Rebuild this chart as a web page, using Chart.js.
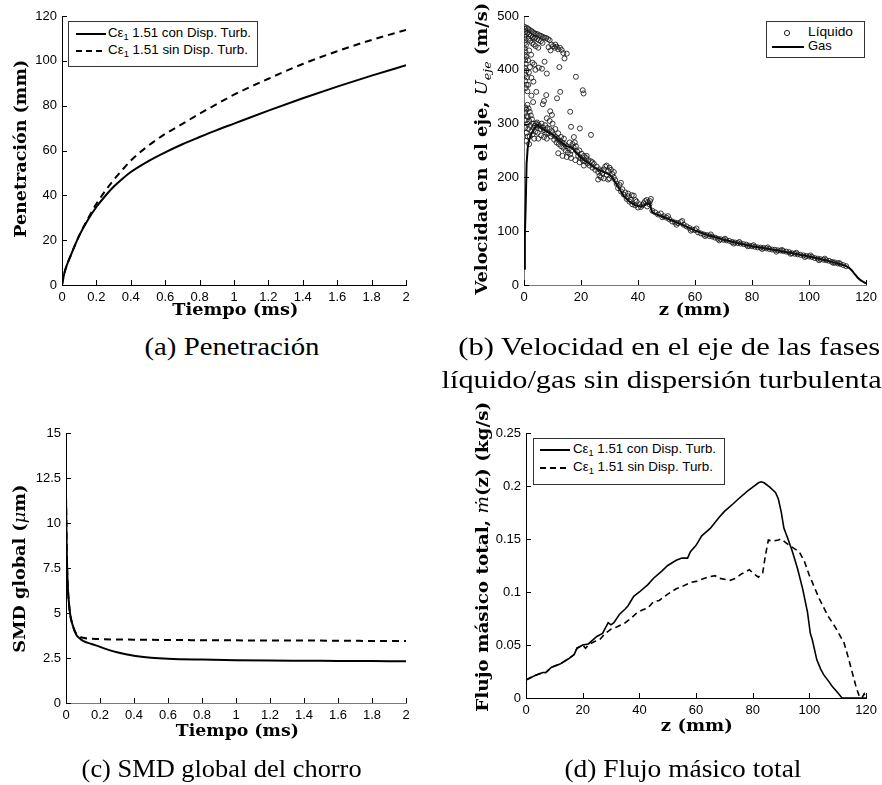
<!DOCTYPE html>
<html><head><meta charset="utf-8">
<script src="https://cdn.jsdelivr.net/npm/chart.js@4/dist/chart.umd.min.js"></script>
<style>
html,body{margin:0;padding:0;background:#fff;width:882px;height:785px;overflow:hidden;position:relative;}
canvas{position:absolute;}
.txt{position:absolute;white-space:nowrap;line-height:1.15;transform-origin:center center;color:#000;}
.ttl{font-family:"DejaVu Serif",serif;font-weight:bold;font-size:17px;}
.cap{font-family:"Liberation Serif","Times New Roman",serif;font-size:25px;}
.lt{font-family:"Liberation Sans",Arial,sans-serif;font-size:13px;}
sub{font-size:0.7em;line-height:0;vertical-align:-0.35em;}
.legbox{position:absolute;border:1px solid #333;background:#fff;}
</style></head>
<body>
<canvas id="ca" width="441" height="325" style="left:0;top:0"></canvas>
<canvas id="cb" width="441" height="325" style="left:441px;top:0"></canvas>
<canvas id="cc" width="441" height="330" style="left:0;top:400px"></canvas>
<canvas id="cd" width="441" height="330" style="left:441px;top:400px"></canvas>
<script>
// ---------- DATA ----------
// (a) Penetración vs tiempo
const timeA = [0, 0.01, 0.02, 0.05, 0.1, 0.15, 0.2, 0.25, 0.3, 0.35, 0.4, 0.5, 0.6, 0.7, 0.8, 0.9, 1.0, 1.2, 1.4, 1.6, 1.8, 2.0];
const penCon = [0, 4, 7, 13, 22, 29, 34.8, 39.6, 43.8, 47.3, 50.4, 55.2, 59.2, 62.8, 66, 69.1, 72, 77.8, 83.3, 88.5, 93.4, 98];
const penSin = [0, 4, 7, 13, 22, 29.5, 36.2, 41.8, 46.8, 51.3, 55.5, 62, 67.4, 71.9, 76.4, 80.7, 84.9, 92, 98.6, 104.3, 109.3, 113.8];
const xTicksA = [0, 0.2, 0.4, 0.6, 0.8, 1, 1.2, 1.4, 1.6, 1.8, 2];
const yTicksA = [0, 20, 40, 60, 80, 100, 120];

// (b) Velocidad en el eje
const zGas = [0, 0.3, 0.6, 0.9, 1.3, 1.8, 2.5, 3.5, 4.6, 6, 8, 10, 12, 15, 17, 18, 20, 23, 25, 28, 30, 31, 33, 35, 37, 39, 41, 43, 44, 45, 47, 50, 55, 60, 65, 70, 75, 80, 85, 90, 95, 100, 105, 108, 110, 112, 113, 114, 115, 116, 117, 118, 119, 120];
const vGas = [30, 90, 150, 225, 255, 270, 280, 290, 298, 292, 285, 280, 270, 258, 255, 248, 236, 225, 217, 210, 205, 200, 182, 165, 155, 148, 146, 150, 152, 135, 130, 124, 113, 101, 92, 84, 78, 72, 68, 63, 58, 53, 47, 43, 40, 37, 35, 32, 27, 20, 14, 9, 6, 3];
const liquidZ = [
 0.2,0.4,0.3,0.6,0.2,0.5,0.3,0.7,0.2,0.5,
 0.3,0.8,0.4,0.6,0.3,0.8,0.5,1.0,0.4,0.9,
 0.6,1.2,0.5,0.8,0.3,1.0,0.6,1.2,0.4,0.9,
 1.3,0.7,1.0,1.5,2.0,2.6,3.1,3.6,4.2,4.8,
 5.4,6.0,6.6,7.2,7.8,8.4,9.0,1.3,1.9,2.4,
 3.0,3.5,4.0,4.6,5.2,5.9,6.5,1.6,2.2,2.8,
 3.4,4.1,5.0,9.6,10.2,10.8,11.4,12.0,12.6,13.2,
 13.8,14.2,15.0,8.6,9.3,11.0,1.8,2.5,1.4,3.0,
 2.1,3.6,1.7,2.6,1.5,3.3,12.4,18.2,20.6,20.9,
 12.7,11.6,16.2,16.5,19.6,23.5,7.2,6.3,8.0,4.3,
 7.8,7.0,6.6,9.2,5.2,4.0,9.8,3.2,2.6,1.2,
 1.6,2.0,1.4,2.4,1.8,2.8,3.2,2.2,1.5,2.6,
 3.4,3.8,4.2,4.6,5.0,3.0,4.0,4.8,2.0,3.6,
 1.8,5.4,5.8,6.2,6.6,7.0,7.4,7.8,8.2,8.6,
 9.0,9.4,9.8,6.0,7.0,8.0,5.0,10.2,10.6,11.0,
 11.4,11.8,12.2,12.6,13.0,13.4,13.8,14.2,14.6,15.0,
 15.4,15.8,16.2,16.6,17.0,17.4,17.8,18.2,18.6,19.0,
 19.4,19.8,20.2,20.6,21.0,21.4,21.8,22.2,22.6,12.0,
 13.5,15.0,16.5,18.0,19.5,21.0,9.0,8.0,10.0,11.0,
 12.0,13.0,14.0,16.0,17.5,23.0,23.5,24.0,24.5,25.0,
 25.5,26.0,26.5,27.0,27.5,28.0,28.5,29.0,29.5,30.0,
 30.5,31.0,31.5,32.0,28.0,29.0,30.0,26.0,27.0,32.5,
 33.0,33.5,34.0,34.5,35.0,35.5,36.0,36.5,37.0,37.5,
 38.0,38.5,39.0,39.5,40.0,40.5,41.0,41.5,42.0,42.5,
 43.0,43.5,44.0,43.2,44.2,45.0,46.0,47.0,48.0,49.0,
 50,51,52,53,54,55,56,57,58,59,
 60,61,62,63,64,65,66,67,68,69,
 70,71,72,73,74,75,76,77,78,79,
 80,81,82,83,84,85,86,87,88,89,
 90,91,92,93,94,95,96,97,98,99,
 100,101,102,103,104,105,106,107,108,109,
 110,111,112,113,50.5,55.5,60.5,65.5,70.5,75.5,
 80.5,85.5,90.5,95.5,100.5,105.5,110.5,48.5,53.5,58.5,
 63.5,68.5,73.5,78.5,83.5,88.5,93.5,98.5,103.5,108.5,
 37.8,39.0,29.5,31.5,22.0,24.0,26.5,34.0,36.5,44.5
];
const liquidV = [
 480,476,470,466,461,456,450,446,440,434,
 428,424,418,411,404,398,391,386,380,372,
 366,360,330,326,320,314,306,300,292,283,
 276,268,478,476,474,472,470,468,467,466,
 464,463,461,460,459,457,455,469,466,463,
 461,458,460,457,455,453,450,458,454,450,
 447,444,441,447,444,441,443,438,441,437,
 431,421,430,442,436,447,436,428,418,413,
 405,410,395,385,372,378,405,387,362,356,
 359,347,322,294,291,279,415,402,393,359,
 353,342,336,323,404,400,316,340,352,335,
 328,322,312,315,305,308,300,296,290,286,
 292,296,300,302,298,280,285,283,276,272,
 262,295,290,300,293,288,297,283,292,282,
 290,276,286,278,275,272,272,280,270,276,
 265,272,262,268,258,265,255,262,250,258,
 246,254,243,250,262,256,265,258,248,240,
 250,236,244,232,240,230,236,226,232,245,
 240,238,236,232,228,222,305,310,300,290,
 282,275,272,265,275,222,230,218,225,214,
 220,210,203,200,208,215,220,222,212,218,
 214,206,200,195,198,205,198,196,212,188,
 180,186,174,178,168,172,160,165,155,158,
 150,166,148,155,144,150,145,148,152,156,
 158,154,150,146,156,138,135,131,133,128,
 125,122,118,116,115,117,112,109,106,103,
 102,98,96,94,93,91,90,88,86,85,
 84,83,82,80,79,78,77,76,75,73,
 72,71,70,69.5,69,68,67,66,65.5,64.5,
 64,63,62,61,59,58,57,56,55,54,
 53,52,50,49,48,47,46,45,43,42,
 40,39,37,35,128,119,105,94,86,80,
 74,70,65,60,55,49,41,126,112,101,
 91,83,77,72,67,62,58,52,46,41,
 167,158,196,210,240,228,215,190,170,160
];
const xTicksB = [0, 20, 40, 60, 80, 100, 120];
const yTicksB = [0, 100, 200, 300, 400, 500];

// (c) SMD global
const timeC = [0, 0.005, 0.01, 0.015, 0.025, 0.04, 0.06, 0.08, 0.1, 0.15, 0.2, 0.25, 0.3, 0.4, 0.5, 0.6, 0.8, 1.0, 1.2, 1.4, 1.6, 1.8, 2.0];
const smdCon = [11.5, 8.2, 6.6, 5.8, 4.9, 4.3, 3.8, 3.6, 3.45, 3.28, 3.12, 2.95, 2.82, 2.63, 2.52, 2.46, 2.41, 2.38, 2.36, 2.35, 2.34, 2.33, 2.32];
const timeC2 = [0, 0.005, 0.01, 0.015, 0.025, 0.04, 0.06, 0.08, 0.1, 0.2, 0.4, 0.6, 0.8, 1.0, 1.2, 1.4, 1.6, 1.8, 2.0];
const smdSin = [11.5, 8.2, 6.6, 5.8, 4.9, 4.3, 3.85, 3.7, 3.62, 3.55, 3.52, 3.5, 3.49, 3.48, 3.47, 3.47, 3.46, 3.45, 3.45];
const xTicksC = [0, 0.2, 0.4, 0.6, 0.8, 1, 1.2, 1.4, 1.6, 1.8, 2];
const yTicksC = [0, 2.5, 5, 7.5, 10, 12.5, 15];

// (d) Flujo másico total
const zCon = [0, 3, 5, 6, 7, 9, 12, 15, 17, 18, 20, 22, 25, 27, 29, 30, 31, 33, 35, 36, 38, 40, 43, 45, 48, 50, 53, 55, 57, 58, 60, 62, 65, 68, 70, 73, 75, 78, 80, 82, 83, 84, 86, 88, 89, 90, 91, 92.3, 94, 95.8, 97.6, 99.3, 100.3, 101, 102.6, 104, 105, 107, 108, 110, 111.5, 120];
const mCon = [0.017, 0.021, 0.023, 0.024, 0.024, 0.029, 0.032, 0.037, 0.041, 0.047, 0.05, 0.051, 0.058, 0.061, 0.071, 0.069, 0.071, 0.079, 0.084, 0.087, 0.096, 0.1, 0.107, 0.113, 0.12, 0.125, 0.13, 0.132, 0.132, 0.138, 0.144, 0.153, 0.16, 0.17, 0.176, 0.183, 0.188, 0.195, 0.199, 0.203, 0.204, 0.203, 0.199, 0.194, 0.188, 0.176, 0.16, 0.151, 0.138, 0.122, 0.103, 0.081, 0.061, 0.055, 0.036, 0.027, 0.022, 0.015, 0.011, 0.005, 0, 0];
const zSin = [0, 3, 5, 7, 9, 12, 15, 17, 18, 20, 21, 22, 24, 26, 28, 30, 32, 35, 37, 39, 41, 43, 45, 47, 50, 53, 55, 58, 60, 62, 64, 66.7, 68, 70, 72, 74, 76, 78.8, 80, 82, 83.5, 84.5, 85.5, 87, 89, 90, 92.9, 96.4, 98.2, 99.9, 103.4, 106.4, 109.3, 112.2, 113.5, 115.5, 116.5, 117.6, 118.5, 119.3, 120];
const mSin = [0.017, 0.021, 0.023, 0.024, 0.029, 0.032, 0.037, 0.041, 0.047, 0.05, 0.047, 0.05, 0.053, 0.055, 0.061, 0.065, 0.067, 0.071, 0.075, 0.08, 0.083, 0.085, 0.091, 0.092, 0.098, 0.103, 0.105, 0.109, 0.11, 0.112, 0.114, 0.1154, 0.113, 0.112, 0.111, 0.113, 0.117, 0.121, 0.118, 0.114, 0.118, 0.135, 0.149, 0.148, 0.149, 0.15, 0.144, 0.138, 0.129, 0.116, 0.094, 0.078, 0.066, 0.052, 0.04, 0.02, 0.01, 0.0015, 0, 0.004, 0];
const xTicksD = [0, 20, 40, 60, 80, 100, 120];
const yTicksD = [0, 0.05, 0.1, 0.15, 0.2, 0.25];

// ---------- HELPERS ----------
const TICKFONT = {family: '"Liberation Sans", Arial, sans-serif', size: 13};
const pts = (xs, ys) => xs.map((x, i) => ({x: x, y: ys[i]}));

const inTicks = {
  id: 'inTicks',
  afterDraw(chart) {
    const ctx = chart.ctx, ca = chart.chartArea;
    const xs = chart.scales.x, ys = chart.scales.y;
    ctx.save();
    ctx.strokeStyle = '#000';
    ctx.lineWidth = 1;
    xs.ticks.forEach(t => {
      const px = Math.round(xs.getPixelForValue(t.value)) + 0.5;
      ctx.beginPath(); ctx.moveTo(px, ca.bottom); ctx.lineTo(px, ca.bottom - 5); ctx.stroke();
    });
    ys.ticks.forEach(t => {
      const py = Math.round(ys.getPixelForValue(t.value)) + 0.5;
      ctx.beginPath(); ctx.moveTo(ca.left, py); ctx.lineTo(ca.left + 5, py); ctx.stroke();
    });
    ctx.restore();
  }
};

function axis(min, max, tickArr, fitSize, isX, borderColor) {
  return {
    type: 'linear', min: min, max: max,
    afterBuildTicks: s => { s.ticks = tickArr.map(v => ({value: v})); },
    afterFit: s => { if (isX) s.height = fitSize; else s.width = fitSize; },
    grid: {display: false, drawTicks: false},
    border: {display: true, color: borderColor, width: 1},
    ticks: {color: '#000', font: TICKFONT, padding: 5, autoSkip: false, maxRotation: 0,
            callback: v => String(v)}
  };
}

function makeChart(id, datasets, xs, ys, pad) {
  return new Chart(document.getElementById(id), {
    type: 'scatter',
    data: {datasets: datasets},
    options: {
      responsive: false, animation: false, devicePixelRatio: 1,
      layout: {padding: pad},
      plugins: {legend: {display: false}, tooltip: {enabled: false}},
      scales: {x: xs, y: ys},
      elements: {point: {radius: 0}}
    },
    plugins: [inTicks]
  });
}

const lineDs = (data, dash, width, smooth) => ({
  data: data, showLine: true, borderColor: '#000', borderWidth: width,
  borderDash: dash, pointRadius: 0, fill: false,
  cubicInterpolationMode: smooth ? 'monotone' : 'default', tension: 0
});

// (a)
makeChart('ca', [
  lineDs(pts(timeA, penSin), [7, 5], 2, true),
  lineDs(pts(timeA, penCon), [], 2, true)
], axis(0, 2, xTicksA, 40, true, '#000'), axis(0, 120, yTicksA, 62, false, '#000'),
{top: 16, right: 35, left: 0, bottom: 0});

// (b)
makeChart('cb', [
  {data: pts(liquidZ, liquidV), showLine: false, pointRadius: 2.5, pointBorderWidth: 1,
   pointBorderColor: 'rgba(25,25,25,0.85)', pointBackgroundColor: 'rgba(0,0,0,0)', borderColor: 'rgba(25,25,25,0.85)'},
  lineDs(pts(zGas, vGas), [], 2, false)
], axis(0, 120, xTicksB, 40, true, '#7a7a7a'), axis(0, 500, yTicksB, 83, false, '#7a7a7a'),
{top: 16, right: 14, left: 0, bottom: 0});

// (c)
makeChart('cc', [
  lineDs(pts(timeC2, smdSin), [7, 5], 2, true),
  lineDs(pts(timeC, smdCon), [], 2, true)
], axis(0, 2, xTicksC, 27, true, '#7a7a7a'), axis(0, 15, yTicksC, 66, false, '#000'),
{top: 33, right: 35, left: 0, bottom: 0});

// (d)
makeChart('cd', [
  lineDs(pts(zSin, mSin), [6, 4], 1.6, false),
  lineDs(pts(zCon, mCon), [], 1.6, false)
], axis(0, 120, xTicksD, 32, true, '#000'), axis(0, 0.25, yTicksD, 85, false, '#000'),
{top: 33, right: 14, left: 0, bottom: 0});

// ---------- TEXT ----------
function place(cls, html, x, cy, len, rot, leftAnchor) {
  const el = document.createElement('div');
  el.className = 'txt ' + cls;
  el.innerHTML = html;
  document.body.appendChild(el);
  const r = el.getBoundingClientRect();
  const w = r.width, h = r.height;
  const s = len ? len / w : 1;
  if (leftAnchor) {
    el.style.left = x + 'px'; el.style.top = (cy - h / 2) + 'px';
    el.style.transformOrigin = 'left center';
  } else {
    el.style.left = (x - w / 2) + 'px'; el.style.top = (cy - h / 2) + 'px';
  }
  el.style.transform = 'rotate(' + (rot || 0) + 'deg) scaleX(' + s + ')';
  return el;
}

// axis titles
place('ttl', 'Penetración (mm)', 20, 149, 178, -90);
place('ttl', 'Tiempo (ms)', 235, 310, 126, 0);
place('ttl', 'Velocidad en el eje, <i style="font-weight:normal">U<sub>eje</sub></i> (m/s)', 482, 149, 292, -90);
place('ttl', 'z (mm)', 695, 310, 72, 0);
place('ttl', 'SMD global (<i style="font-weight:normal">μ</i>m)', 20, 569, 168, -90);
place('ttl', 'Tiempo (ms)', 237, 731, 123, 0);
place('ttl', 'Flujo másico total, <i style="font-weight:normal">ṁ</i>(z) (kg/s)', 482, 557, 310, -90);
place('ttl', 'z (mm)', 697, 726, 72, 0);

// captions
place('cap', '(a) Penetración', 232, 347, 175, 0);
place('cap', '(b) Velocidad en el eje de las fases', 669, 347, 422, 0);
place('cap', 'líquido/gas sin dispersión turbulenta', 662, 380, 440, 0);
place('cap', '(c) SMD global del chorro', 222, 769, 280, 0);
place('cap', '(d) Flujo másico total', 683, 769, 237, 0);

// legends
function legendBox(left, top, w, h, svg) {
  const b = document.createElement('div');
  b.className = 'legbox';
  b.style.left = left + 'px'; b.style.top = top + 'px';
  b.style.width = w + 'px'; b.style.height = h + 'px';
  b.innerHTML = '<svg width="' + w + '" height="' + h + '" style="position:absolute;left:0;top:0">' + svg + '</svg>';
  document.body.appendChild(b);
}
const LEG1 = 'Cε<sub>1</sub> 1.51 con Disp. Turb.';
const LEG2 = 'Cε<sub>1</sub> 1.51 sin Disp. Turb.';
legendBox(68, 21, 188, 44,
  '<line x1="7" y1="12" x2="37" y2="12" stroke="#000" stroke-width="2"/>' +
  '<line x1="7" y1="29" x2="37" y2="29" stroke="#000" stroke-width="2" stroke-dasharray="6,4"/>');
place('lt', LEG1, 108, 33, 143, 0, true);
place('lt', LEG2, 108, 50, 140, 0, true);

legendBox(766, 21, 97, 35,
  '<circle cx="20" cy="11" r="2.6" fill="none" stroke="#222" stroke-width="1"/>' +
  '<line x1="5" y1="25" x2="37" y2="25" stroke="#000" stroke-width="2"/>');
place('lt', 'Líquido', 808, 32, 45, 0, true);
place('lt', 'Gas', 808, 46, 0, 0, true);

legendBox(533, 438, 190, 45,
  '<line x1="6" y1="11" x2="36" y2="11" stroke="#000" stroke-width="2"/>' +
  '<line x1="6" y1="29" x2="36" y2="29" stroke="#000" stroke-width="2" stroke-dasharray="6,4"/>');
place('lt', LEG1, 573, 449, 143, 0, true);
place('lt', LEG2, 573, 467, 140, 0, true);
</script>
</body></html>
